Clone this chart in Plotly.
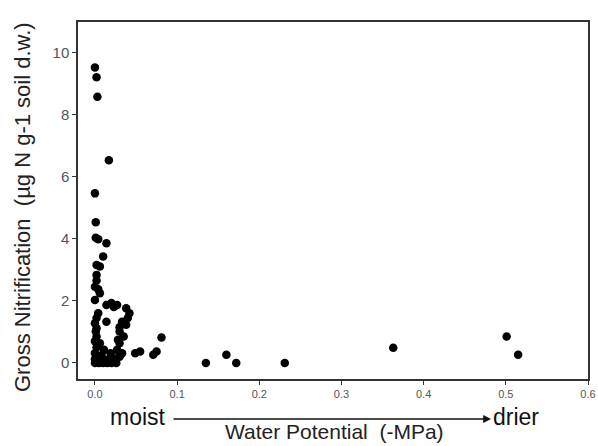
import plotly.graph_objects as go

# Water potential (-MPa)
water_potential = [
    0.000, 0.002, 0.003, 0.017, 0.000, 0.001, 0.001, 0.004, 0.014, 0.010,
    0.002, 0.006, 0.002, 0.002, 0.000, 0.004, 0.006, 0.000,
    0.014, 0.020, 0.027, 0.023, 0.038, 0.042, 0.040, 0.004, 0.002, 0.014,
    0.033, 0.038, 0.030, 0.000, 0.002, 0.001, 0.030, 0.035, 0.002, 0.006,
    0.030, 0.028, 0.000, 0.081, 0.055, 0.049, 0.075, 0.071, 0.027, 0.019,
    0.033, 0.000, 0.011, 0.002, 0.023, 0.014, 0.006, 0.000, 0.005, 0.010,
    0.015, 0.020, 0.026, 0.000, 0.030, 0.008,
    0.135, 0.160, 0.172, 0.231, 0.363, 0.501, 0.515,
]
# Gross nitrification (ug N g-1 soil d.w.)
gross_nitrification = [
    9.53, 9.22, 8.59, 6.54, 5.47, 4.54, 4.04, 3.99, 3.86, 3.43,
    3.16, 3.11, 2.84, 2.66, 2.46, 2.38, 2.25, 2.03,
    1.87, 1.93, 1.87, 1.80, 1.76, 1.60, 1.45, 1.60, 1.45, 1.33,
    1.33, 1.23, 1.15, 1.28, 1.12, 1.01, 1.01, 0.85, 0.85, 0.63,
    0.63, 0.75, 0.70, 0.82, 0.37, 0.31, 0.37, 0.26, 0.42, 0.31,
    0.31, 0.31, 0.42, 0.50, 0.15, 0.10, 0.15, 0.00, 0.00, 0.00,
    0.00, 0.00, 0.00, 0.12, 0.20, 0.25,
    0.00, 0.26, 0.00, 0.00, 0.49, 0.85, 0.26,
]

x_ticks = [0.0, 0.1, 0.2, 0.3, 0.4, 0.5, 0.6]
y_ticks = [0, 2, 4, 6, 8, 10]

FONT = "Arial, Liberation Sans, sans-serif"

# full-page figure; the body margin is removed by a post script
W, H = 598, 446
# plot area in page pixels: x 78..588, y 22..379
ml, mt = 78, 22
mr, mb = W - 588, H - 379
pw, ph = W - ml - mr, H - mt - mb

def px(xp):  # page pixel -> paper x
    return (xp - ml) / pw

def py(yp):  # page pixel -> paper y
    return (H - mb - yp) / ph

fig = go.Figure()
fig.add_trace(go.Scatter(
    x=water_potential, y=gross_nitrification, mode="markers",
    marker=dict(color="black", size=8.5, line=dict(width=0)),
    showlegend=False, hoverinfo="x+y",
))

fig.update_layout(
    width=W, height=H,
    margin=dict(l=ml, r=mr, t=mt, b=mb, pad=0, autoexpand=False),
    paper_bgcolor="white", plot_bgcolor="white",
    font=dict(family=FONT, color="#222"),
    xaxis=dict(
        range=[-0.0206, 0.6], tickvals=x_ticks, ticktext=[f"{v:.1f}" for v in x_ticks],
        automargin=False,
        showgrid=False, zeroline=False, showline=True, mirror=True,
        linecolor="#333", linewidth=1.5, ticks="outside", ticklen=4,
        tickcolor="#333", tickfont=dict(size=11, color="#555", family=FONT),
    ),
    yaxis=dict(
        range=[-0.52, 11.0], tickvals=y_ticks, automargin=False,
        showgrid=False, zeroline=False, showline=True, mirror=True,
        linecolor="#333", linewidth=1.5, ticks="outside", ticklen=4,
        tickcolor="#333", tickfont=dict(size=15, color="#555", family=FONT),
    ),
)

# axis titles
fig.add_annotation(
    xref="paper", yref="paper", x=px(334), y=py(432), text="Water Potential  (-MPa)",
    showarrow=False, xanchor="center", yanchor="middle",
    font=dict(size=21, color="#222", family=FONT),
)
fig.add_annotation(
    xref="paper", yref="paper", x=px(23), y=py(207),
    text="Gross Nitrification  (µg N g-1 soil d.w.)", textangle=-90,
    showarrow=False, xanchor="center", yanchor="middle",
    font=dict(size=22, color="#222", family=FONT),
)

# moist -> drier arrow
fig.add_annotation(
    xref="paper", yref="paper", x=px(491), y=py(419), ax=172 - 491, ay=0,
    axref="pixel", ayref="pixel", text="", showarrow=True,
    arrowhead=2, arrowsize=1.2, arrowwidth=1.3, arrowcolor="#111",
)
fig.add_annotation(
    xref="paper", yref="paper", x=px(168), y=py(417), text="moist",
    showarrow=False, xanchor="right", yanchor="middle",
    font=dict(size=23, color="#111", family=FONT),
)
fig.add_annotation(
    xref="paper", yref="paper", x=px(491), y=py(417), text="drier",
    showarrow=False, xanchor="left", yanchor="middle",
    font=dict(size=23, color="#111", family=FONT),
)

fig.write_html(
    "out.html",
    config={"displayModeBar": False},
    post_script="document.body.style.margin='0';document.body.style.overflow='hidden';",
)
